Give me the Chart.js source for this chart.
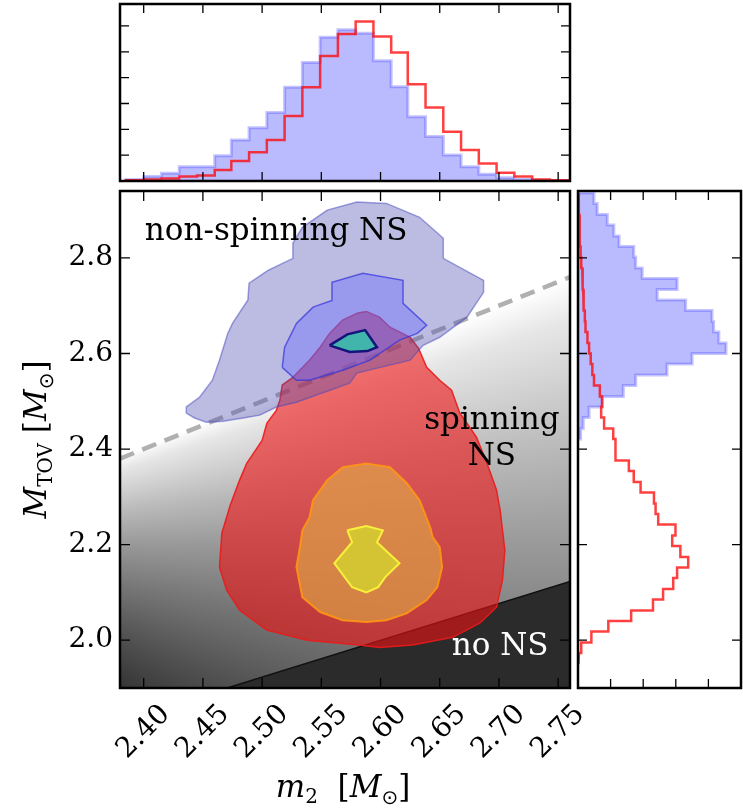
<!DOCTYPE html>
<html>
<head>
<meta charset="utf-8">
<script src="https://cdn.jsdelivr.net/npm/chart.js@4.4.0/dist/chart.umd.min.js"></script>
<style>
  html, body { margin: 0; padding: 0; background: #fff; }
  #wrap { position: relative; width: 743px; height: 812px; overflow: hidden; }
  canvas { position: absolute; }
</style>
</head>
<body>
<div id="wrap">
  <canvas id="mainChart" width="743" height="812" style="left:0;top:0"></canvas>
  <canvas id="topChart" width="600" height="188" style="left:0;top:0"></canvas>
  <canvas id="sideChart" width="172" height="700" style="left:571px;top:0"></canvas>
</div>
<script>
// ---- data ----
const xTickValues = [2.40, 2.45, 2.50, 2.55, 2.60, 2.65, 2.70, 2.75];
const xTickLabels = ['2.40', '2.45', '2.50', '2.55', '2.60', '2.65', '2.70', '2.75'];
const yTickValues = [2.0, 2.2, 2.4, 2.6, 2.8];
const yTickLabels = ['2.0', '2.2', '2.4', '2.6', '2.8'];
const topCountTicks = [1, 2, 3, 4, 5, 6];
const sideCountTicks = [1, 2, 3, 4];

// m2 histogram (top panel)
const m2Edges = [2.385, 2.400, 2.415, 2.430, 2.445, 2.460, 2.474, 2.489, 2.504, 2.519, 2.534, 2.549, 2.564,
  2.579, 2.594, 2.609, 2.623, 2.638, 2.653, 2.668, 2.683, 2.698, 2.713, 2.728, 2.743, 2.758];
const m2NonSpin = [0.06, 0.17, 0.30, 0.55, 0.55, 0.98, 1.59, 2.06, 2.65, 3.63, 4.59, 5.56, 5.85,
  5.72, 4.65, 3.65, 2.49, 1.72, 1.01, 0.55, 0.26, 0.13, 0.06, 0.03, 0.01];
const m2Spin = [0.03, 0.06, 0.10, 0.17, 0.21, 0.43, 0.77, 1.11, 1.59, 2.52, 3.63, 4.84, 5.69,
  6.17, 5.59, 4.97, 3.74, 2.84, 1.91, 1.20, 0.68, 0.32, 0.17, 0.06, 0.03];

// M_TOV histogram (right panel)
const mtovEdges = [2.936, 2.914, 2.891, 2.869, 2.846, 2.824, 2.802, 2.779, 2.757, 2.734, 2.712, 2.690,
  2.667, 2.645, 2.622, 2.600, 2.578, 2.555, 2.533, 2.510, 2.488, 2.466, 2.443, 2.421, 2.398, 2.376,
  2.354, 2.331, 2.309, 2.286, 2.264, 2.242, 2.219, 2.197, 2.174, 2.152, 2.130, 2.107, 2.085, 2.062,
  2.040, 2.018, 1.995, 1.973, 1.950];
const mtovNonSpin = [0.49, 0.59, 0.90, 1.10, 1.26, 1.71, 1.77, 1.97, 3.04, 2.43, 3.30, 4.11, 4.16,
  4.32, 4.54, 3.50, 2.73, 1.77, 1.39, 0.74, 0.34, 0.16, 0.08];
const mtovSpin = [0.02, 0.03, 0.04, 0.05, 0.06, 0.08, 0.10, 0.13, 0.15, 0.16, 0.18, 0.21, 0.23, 0.29,
  0.34, 0.39, 0.44, 0.49, 0.67, 0.74, 0.71, 0.80, 1.08, 1.15, 1.15, 1.56, 1.71, 1.92, 2.33, 2.38,
  2.46, 2.99, 2.89, 3.14, 3.38, 3.04, 2.92, 2.61, 2.30, 1.63, 0.93, 0.41, 0.10, 0.03];

// region boundaries (m2, M_TOV)
const staticLineX = [2.38, 2.76];
const staticLineY = [2.38, 2.76];
const maxSpinLineX = [2.46, 2.76];
const maxSpinLineY = [1.892, 2.123];

// credible-region contours (m2, M_TOV)
const nonSpin90 = [[2.436, 2.475], [2.436, 2.488], [2.447, 2.508], [2.458, 2.544], [2.464, 2.586],
  [2.471, 2.642], [2.475, 2.663], [2.488, 2.712], [2.489, 2.747], [2.505, 2.774], [2.526, 2.799],
  [2.526, 2.831], [2.534, 2.864], [2.555, 2.900], [2.580, 2.917], [2.605, 2.914], [2.633, 2.885],
  [2.653, 2.841], [2.653, 2.799], [2.687, 2.753], [2.687, 2.728], [2.673, 2.676], [2.650, 2.634],
  [2.636, 2.617], [2.625, 2.586], [2.580, 2.559], [2.574, 2.538], [2.529, 2.498], [2.512, 2.488],
  [2.498, 2.471], [2.484, 2.465], [2.467, 2.458], [2.453, 2.456], [2.443, 2.465]];
const nonSpin50 = [[2.517, 2.571], [2.519, 2.613], [2.529, 2.663], [2.543, 2.697], [2.559, 2.711],
  [2.559, 2.749], [2.585, 2.768], [2.619, 2.753], [2.619, 2.705], [2.639, 2.659], [2.631, 2.642],
  [2.616, 2.628], [2.591, 2.586], [2.568, 2.565], [2.540, 2.544], [2.529, 2.544]];
const nonSpin10 = [[2.557, 2.617], [2.572, 2.640], [2.587, 2.649], [2.597, 2.613], [2.589, 2.605],
  [2.574, 2.603]];
const spin90 = [[2.580, 2.684], [2.588, 2.688], [2.599, 2.676], [2.608, 2.655], [2.625, 2.634],
  [2.632, 2.611], [2.639, 2.571], [2.650, 2.544], [2.660, 2.523], [2.667, 2.475], [2.673, 2.454],
  [2.681, 2.425], [2.690, 2.370], [2.698, 2.314], [2.701, 2.272], [2.705, 2.188], [2.703, 2.126],
  [2.698, 2.069], [2.684, 2.036], [2.661, 2.006], [2.627, 1.990], [2.599, 1.985], [2.582, 1.990],
  [2.538, 2.000], [2.504, 2.021], [2.481, 2.063], [2.470, 2.105], [2.464, 2.153], [2.466, 2.224],
  [2.473, 2.282], [2.481, 2.335], [2.487, 2.370], [2.500, 2.418], [2.504, 2.454], [2.512, 2.481],
  [2.515, 2.502], [2.517, 2.534], [2.526, 2.550], [2.540, 2.586], [2.549, 2.613], [2.557, 2.642],
  [2.568, 2.670]];
const spin50 = [[2.568, 2.362], [2.588, 2.370], [2.608, 2.362], [2.622, 2.329], [2.633, 2.293],
  [2.642, 2.236], [2.644, 2.216], [2.650, 2.195], [2.652, 2.153], [2.648, 2.111], [2.639, 2.084],
  [2.622, 2.056], [2.605, 2.042], [2.588, 2.038], [2.568, 2.042], [2.549, 2.059], [2.534, 2.090],
  [2.529, 2.153], [2.532, 2.195], [2.534, 2.230], [2.540, 2.257], [2.543, 2.293], [2.555, 2.335]];
const spin10 = [[2.572, 2.230], [2.588, 2.239], [2.602, 2.230], [2.597, 2.205], [2.616, 2.161],
  [2.604, 2.132], [2.598, 2.111], [2.588, 2.100], [2.576, 2.111], [2.561, 2.161], [2.576, 2.205]];

const regionLabels = [
  { text: 'non-spinning NS', x: 2.401, y: 2.837, align: 'left', color: '#000' },
  { text: 'spinning', x: 2.694, y: 2.4415, align: 'center', color: '#000' },
  { text: 'NS', x: 2.694, y: 2.366, align: 'center', color: '#000' },
  { text: 'no NS', x: 2.701, y: 1.969, align: 'center', color: '#fff' }
];

// shading below the static line: conic gradient around a point (m2, M_TOV)
const shadeCenter = [2.193, 2.203];
const shadeStart = -0.6;
const shadeStops = [[0, '#ffffff'], [0.0355, '#ffffff'], [0.0446, '#e6e6e6'], [0.0724, '#bababa'],
  [0.0955, '#9a9a9a'], [0.1273, '#747474'], [0.1587, '#515151'], [0.1857, '#363636'],
  [0.2228, '#2a2a2a'], [1, '#2a2a2a']];

// ---- helpers ----
const SERIF = '"DejaVu Serif", serif';

function poly(points) {
  return points.concat([points[0]]).map(p => ({ x: p[0], y: p[1] }));
}
function lineOf(xs, ys) {
  return xs.map((v, i) => ({ x: v, y: ys[i] }));
}
function barsUp(edges, vals) {
  const pts = [{ x: edges[0], y: 0 }];
  vals.forEach((v, i) => { pts.push({ x: edges[i], y: v }); pts.push({ x: edges[i + 1], y: v }); });
  pts.push({ x: edges[vals.length], y: 0 });
  return pts;
}
function barsSide(edges, vals) {
  const pts = [{ x: 0, y: edges[0] }];
  vals.forEach((v, i) => { pts.push({ x: v, y: edges[i] }); pts.push({ x: v, y: edges[i + 1] }); });
  pts.push({ x: 0, y: edges[vals.length] });
  return pts;
}

// frame + inward ticks, like matplotlib
function framePlugin(xt, yt, len) {
  return {
    id: 'frame',
    afterDatasetsDraw(chart) {
      const { ctx, chartArea: a, scales } = chart;
      ctx.save();
      ctx.strokeStyle = '#000';
      ctx.lineWidth = 1.3;
      ctx.beginPath();
      xt.forEach(v => {
        const p = scales.x.getPixelForValue(v);
        ctx.moveTo(p, a.bottom); ctx.lineTo(p, a.bottom - len);
        ctx.moveTo(p, a.top); ctx.lineTo(p, a.top + len);
      });
      yt.forEach(v => {
        const p = scales.y.getPixelForValue(v);
        ctx.moveTo(a.left, p); ctx.lineTo(a.left + len, p);
        ctx.moveTo(a.right, p); ctx.lineTo(a.right - len, p);
      });
      ctx.stroke();
      ctx.lineWidth = 2.5;
      ctx.strokeRect(a.left, a.top, a.right - a.left, a.bottom - a.top);
      ctx.restore();
    }
  };
}

function drawRich(ctx, pieces, cx, cy, angle) {
  ctx.save();
  ctx.translate(cx, cy);
  ctx.rotate(angle);
  let total = 0;
  pieces.forEach(p => { ctx.font = p.font; total += ctx.measureText(p.text).width; });
  let pos = -total / 2;
  ctx.textAlign = 'left';
  ctx.textBaseline = 'alphabetic';
  ctx.fillStyle = '#000';
  pieces.forEach(p => {
    ctx.font = p.font;
    ctx.fillText(p.text, pos, p.dy || 0);
    pos += ctx.measureText(p.text).width;
  });
  ctx.restore();
}

const textPlugin = {
  id: 'texts',
  afterDraw(chart) {
    const { ctx, chartArea: a, scales: { x, y } } = chart;
    ctx.save();
    // region labels
    ctx.font = '31px ' + SERIF;
    ctx.textBaseline = 'alphabetic';
    regionLabels.forEach(l => {
      ctx.fillStyle = l.color;
      ctx.textAlign = l.align;
      ctx.fillText(l.text, x.getPixelForValue(l.x), y.getPixelForValue(l.y));
    });
    // rotated x tick labels, centred on the tick
    ctx.font = '28px ' + SERIF;
    ctx.fillStyle = '#000';
    ctx.textAlign = 'center';
    ctx.textBaseline = 'middle';
    xTickValues.forEach((v, i) => {
      ctx.save();
      ctx.translate(x.getPixelForValue(v), a.bottom + 44);
      ctx.rotate(-Math.PI / 4);
      ctx.fillText(xTickLabels[i], 0, 0);
      ctx.restore();
    });
    ctx.restore();

    const big = '31px ' + SERIF, it = 'italic 31px ' + SERIF, sub = '20px ' + SERIF;
    const odot = '20px "DejaVu Sans", sans-serif';
    drawRich(ctx, [
      { text: 'm', font: it }, { text: '2', font: sub, dy: 6 }, { text: '  [', font: big },
      { text: 'M', font: it }, { text: '\u2299', font: odot, dy: 7 }, { text: ']', font: big }
    ], (a.left + a.right) / 2 - 2, a.bottom + 109, 0);
    drawRich(ctx, [
      { text: 'M', font: it }, { text: 'TOV', font: sub, dy: 6 }, { text: ' [', font: big },
      { text: 'M', font: it }, { text: '\u2299', font: odot, dy: 7 }, { text: ']', font: big }
    ], 46, (a.top + a.bottom) / 2 - 0, -Math.PI / 2);
  }
};

function shadeFill(c) {
  const chart = c.chart;
  if (!chart.chartArea || !chart.scales.x) return 'rgba(0,0,0,0)';
  const cx = chart.scales.x.getPixelForValue(shadeCenter[0]);
  const cy = chart.scales.y.getPixelForValue(shadeCenter[1]);
  const g = chart.ctx.createConicGradient(shadeStart, cx, cy);
  shadeStops.forEach(s => g.addColorStop(s[0], s[1]));
  return g;
}

const common = {
  responsive: false,
  animation: false,
  devicePixelRatio: 1,
  events: [],
  plugins: { legend: { display: false }, tooltip: { enabled: false } },
  elements: { point: { radius: 0, hoverRadius: 0 }, line: { tension: 0 } }
};

// ---- main panel ----
new Chart(document.getElementById('mainChart'), {
  type: 'line',
  data: {
    datasets: [
      { data: lineOf(staticLineX, staticLineY), order: 10, fill: 'start', backgroundColor: shadeFill,
        borderColor: 'rgba(172,172,172,0.95)', borderWidth: 4.5, borderDash: [15, 9] },
      { data: lineOf(maxSpinLineX, maxSpinLineY), order: 9, fill: 'start', backgroundColor: '#2b2b2b',
        borderColor: '#111', borderWidth: 1.5 },
      { data: poly(spin90), order: 8, fill: 'shape', backgroundColor: 'rgba(238,18,18,0.6)',
        borderColor: 'rgba(235,25,25,0.9)', borderWidth: 1.5 },
      { data: poly(spin50), order: 7, fill: 'shape', backgroundColor: 'rgba(222,172,72,0.62)',
        borderColor: 'rgba(255,150,20,0.9)', borderWidth: 2 },
      { data: poly(spin10), order: 6, fill: 'shape', backgroundColor: 'rgba(210,220,45,0.72)',
        borderColor: 'rgba(250,240,60,1)', borderWidth: 2 },
      { data: poly(nonSpin90), order: 5, fill: 'shape', backgroundColor: 'rgba(80,80,180,0.38)',
        borderColor: 'rgba(70,70,190,0.5)', borderWidth: 1.5 },
      { data: poly(nonSpin50), order: 4, fill: 'shape', backgroundColor: 'rgba(105,105,255,0.42)',
        borderColor: 'rgba(50,50,220,0.7)', borderWidth: 1.5 },
      { data: poly(nonSpin10), order: 3, fill: 'shape', backgroundColor: 'rgba(60,185,170,0.95)',
        borderColor: '#14147a', borderWidth: 2.5 }
    ]
  },
  options: Object.assign({}, common, {
    layout: { padding: { top: 191, right: 173, left: 0, bottom: 0 } },
    scales: {
      x: {
        type: 'linear', min: 2.38, max: 2.76,
        grid: { display: false, drawTicks: false }, border: { display: false },
        ticks: { display: false },
        afterBuildTicks: s => { s.ticks = xTickValues.map(v => ({ value: v })); },
        afterFit: s => { s.height = 124; }
      },
      y: {
        type: 'linear', min: 1.9, max: 2.94,
        grid: { display: false, drawTicks: false }, border: { display: false },
        ticks: { color: '#000', padding: 7, font: { family: 'DejaVu Serif', size: 28 },
          callback: (v, i) => yTickLabels[i] },
        afterBuildTicks: s => { s.ticks = yTickValues.map(v => ({ value: v })); },
        afterFit: s => { s.width = 120; }
      }
    }
  }),
  plugins: [framePlugin(xTickValues, yTickValues, 10), textPlugin]
});

// ---- top panel: m2 ----
new Chart(document.getElementById('topChart'), {
  type: 'line',
  data: {
    datasets: [
      { data: barsUp(m2Edges, m2Spin), order: 1, fill: false,
        borderColor: 'rgba(255,0,0,0.75)', borderWidth: 2.5 },
      { data: barsUp(m2Edges, m2NonSpin), order: 2, fill: 'shape',
        backgroundColor: 'rgba(0,0,255,0.27)', borderColor: 'rgba(60,60,255,0.3)', borderWidth: 3 }
    ]
  },
  options: Object.assign({}, common, {
    layout: { padding: { top: 4, right: 30, left: 120, bottom: 7 } },
    scales: {
      x: { type: 'linear', min: 2.38, max: 2.76, display: false },
      y: { type: 'linear', min: 0, max: 6.85, display: false }
    }
  }),
  plugins: [framePlugin(xTickValues, topCountTicks, 9)]
});

// ---- right panel: M_TOV ----
new Chart(document.getElementById('sideChart'), {
  type: 'line',
  data: {
    datasets: [
      { data: barsSide(mtovEdges, mtovSpin), order: 1, fill: false,
        borderColor: 'rgba(255,0,0,0.75)', borderWidth: 2.5 },
      { data: barsSide(mtovEdges, mtovNonSpin), order: 2, fill: 'shape',
        backgroundColor: 'rgba(0,0,255,0.27)', borderColor: 'rgba(60,60,255,0.3)', borderWidth: 3 }
    ]
  },
  options: Object.assign({}, common, {
    layout: { padding: { top: 191, right: 2, left: 7, bottom: 12 } },
    scales: {
      x: { type: 'linear', min: 0, max: 5, display: false },
      y: { type: 'linear', min: 1.9, max: 2.94, display: false }
    }
  }),
  plugins: [framePlugin(sideCountTicks, yTickValues, 9)]
});
</script>
</body>
</html>
